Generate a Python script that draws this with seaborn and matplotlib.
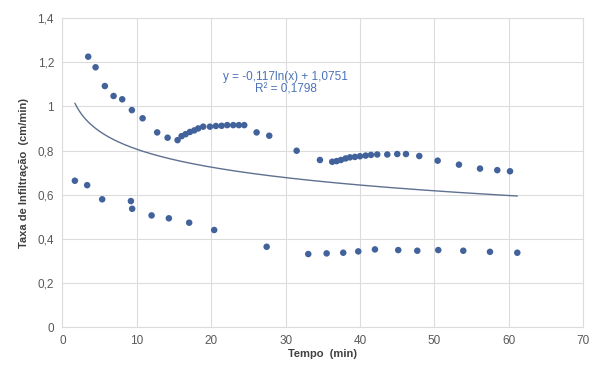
import numpy as np
import pandas as pd
import matplotlib
matplotlib.use('Agg')
import matplotlib.pyplot as plt
import seaborn as sns

# pontos do ramo superior (tempo em min, taxa em cm/min)
tempo_sup = [3.47, 4.46, 5.71, 6.88, 8.04, 9.34, 10.78, 12.74, 14.14, 15.48,
             16.02, 16.56, 17.14, 17.72, 18.25, 18.92, 19.83, 20.63, 21.40, 22.15,
             22.96, 23.72, 24.44, 26.10, 27.80, 31.48, 34.61, 36.26, 36.85, 37.43,
             38.06, 38.64, 39.31, 39.99, 40.75, 41.47, 42.31, 43.66, 45.00, 46.17,
             47.96, 50.43, 53.29, 56.12, 58.44, 60.15]
taxa_sup = [1.225, 1.177, 1.092, 1.047, 1.032, 0.983, 0.946, 0.882, 0.858, 0.847,
            0.865, 0.874, 0.884, 0.891, 0.900, 0.908, 0.908, 0.911, 0.912, 0.915,
            0.915, 0.915, 0.915, 0.882, 0.867, 0.799, 0.757, 0.749, 0.752, 0.757,
            0.764, 0.769, 0.771, 0.774, 0.777, 0.780, 0.782, 0.782, 0.784, 0.784,
            0.775, 0.754, 0.736, 0.718, 0.711, 0.706]

# pontos do ramo inferior
tempo_inf = [1.68, 3.33, 5.35, 9.21, 9.38, 11.99, 14.31, 17.04, 20.40, 27.45,
             33.04, 35.51, 37.74, 39.76, 42.00, 45.13, 47.69, 50.51, 53.87, 57.46,
             61.13]
taxa_inf = [0.663, 0.643, 0.579, 0.571, 0.536, 0.506, 0.493, 0.473, 0.440, 0.364,
            0.331, 0.334, 0.337, 0.343, 0.352, 0.349, 0.346, 0.349, 0.346, 0.341,
            0.337]

# linha de tendência logarítmica (coeficientes do gráfico)
coef_a = -0.117
coef_b = 1.0751
eq_texto = 'y = -0,117ln(x) + 1,0751\nR² = 0,1798'

x_ticks = [0, 10, 20, 30, 40, 50, 60, 70]
y_ticks = [0, 0.2, 0.4, 0.6, 0.8, 1.0, 1.2, 1.4]
y_labels = ['0', '0,2', '0,4', '0,6', '0,8', '1', '1,2', '1,4']

df = pd.DataFrame({'tempo': tempo_sup + tempo_inf, 'taxa': taxa_sup + taxa_inf})

sns.set_style('whitegrid')
plt.rcParams['font.family'] = ['Liberation Sans', 'DejaVu Sans']

fig = plt.figure(figsize=(5.94, 3.76), dpi=100)
ax = fig.add_axes([0.105, 0.130, 0.877, 0.822])

sns.scatterplot(data=df, x='tempo', y='taxa', ax=ax, color='#41629A', s=22,
                edgecolor='none', zorder=3)

xt = np.linspace(df['tempo'].min(), df['tempo'].max(), 200)
ax.plot(xt, coef_a * np.log(xt) + coef_b, color='#5E7190', lw=1.0, zorder=2)

ax.text(30, 1.105, eq_texto, ha='center', va='center', color='#4A72B8',
        fontsize=8.5, linespacing=1.0)

ax.set_xlim(0, 70)
ax.set_ylim(0, 1.4)
ax.set_xticks(x_ticks)
ax.set_yticks(y_ticks)
ax.set_yticklabels(y_labels)
ax.tick_params(labelsize=8.5, colors='#595959', length=0, pad=6)
ax.grid(color='#DCDCDC', lw=0.8)
for s in ax.spines.values():
    s.set_color('#DCDCDC')
    s.set_linewidth(0.8)

ax.set_xlabel('Tempo  (min)', fontsize=8, fontweight='bold', color='#404040', labelpad=1)
ax.set_ylabel('Taxa de Infiltração  (cm/min)', fontsize=8, fontweight='bold',
              color='#404040', labelpad=6)

fig.savefig('out.png', dpi=100)
